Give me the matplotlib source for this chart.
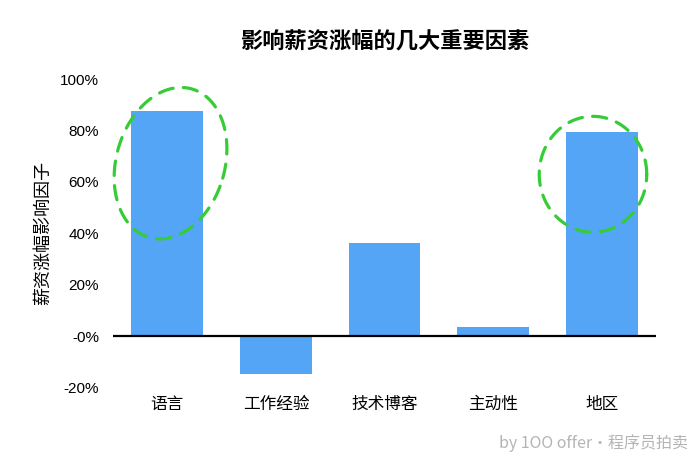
import numpy as np
import matplotlib
matplotlib.use("Agg")
import matplotlib.pyplot as plt

plt.rcParams['font.family'] = ['Noto Sans CJK SC', 'DejaVu Sans']

categories = ['语言', '工作经验', '技术博客', '主动性', '地区']
values = [87.5, -14.5, 36.5, 3.5, 79.5]
yticks = [-20, 0, 20, 40, 60, 80, 100]
ytick_labels = ['-20%', '-0%', '20%', '40%', '60%', '80%', '100%']
title = '影响薪资涨幅的几大重要因素'
ylabel = '薪资涨幅影响因子'
watermark = 'by 1OO offer·程序员拍卖'

# highlight ellipses: (center x, center y, width, height, angle in display space)
highlights = [
    (0.03, 67.3, 1.0, 60.0, -16),
    (3.92, 63.0, 0.99, 45.0, 0),
]

fig = plt.figure(figsize=(7, 4.62), dpi=100)
ax = fig.add_axes([0.1614, 0.1602, 0.7757, 0.6688])

x = np.arange(len(categories))
ax.bar(x, values, width=0.66, color='#54a5f6', zorder=2)
ax.axhline(0, color='black', lw=1.6, zorder=3)

ax.set_xlim(-0.5, len(categories) - 0.5)
ax.set_ylim(-20, 100)
ax.set_yticks(yticks)
ax.set_yticklabels(ytick_labels, family=['Liberation Sans', 'DejaVu Sans'], fontsize=11)
ax.set_xticks(x)
ax.set_xticklabels(categories, fontsize=12)
ax.tick_params(axis='both', length=0)
ax.tick_params(axis='y', pad=10)
ax.tick_params(axis='x', pad=6)
for s in ax.spines.values():
    s.set_visible(False)

ax.set_ylabel(ylabel, fontsize=13, labelpad=6)
ax.set_title(title, fontsize=16, fontweight='bold', pad=22)

# draw dashed ellipses, shaped in display space
fig.canvas.draw()
T = ax.transData
inv = T.inverted()
t = np.linspace(0, 2 * np.pi, 300)
for cx, cy, w, h, ang in highlights:
    c = T.transform((cx, cy))
    px_w = T.transform((cx + w, cy))[0] - c[0]
    px_h = T.transform((cx, cy + h))[1] - c[1]
    ex = px_w / 2 * np.cos(t)
    ey = px_h / 2 * np.sin(t)
    a = np.deg2rad(ang)
    rx = ex * np.cos(a) - ey * np.sin(a) + c[0]
    ry = ex * np.sin(a) + ey * np.cos(a) + c[1]
    d = inv.transform(np.column_stack([rx, ry]))
    ax.plot(d[:, 0], d[:, 1], color='#36cc36', lw=2.3, linestyle=(0, (4.5, 3.2)),
            clip_on=False, zorder=4, solid_capstyle='round', dash_capstyle='round')

fig.text(0.983, 0.041, watermark, ha='right', va='center', fontsize=11.5,
         color='#b4b4b4')

fig.savefig('out.png', dpi=100)
